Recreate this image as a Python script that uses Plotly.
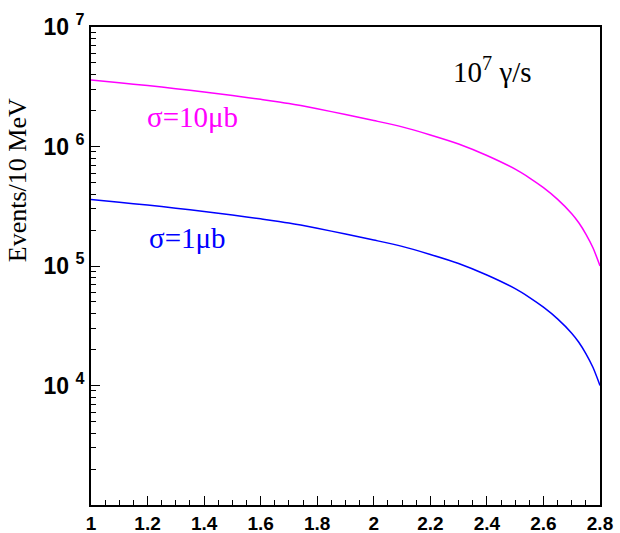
import plotly.graph_objects as go

# Data
x_vals = [1.0, 1.1, 1.2, 1.3, 1.4, 1.5, 1.6, 1.7, 1.8, 1.9, 2.0, 2.1, 2.2, 2.3,
          2.4, 2.5, 2.55, 2.6, 2.65, 2.7, 2.725, 2.75, 2.775, 2.8]
sigma10_vals = [3.60e6, 3.41e6, 3.24e6, 3.05e6, 2.86e6, 2.67e6, 2.48e6, 2.29e6,
                2.07e6, 1.85e6, 1.65e6, 1.46e6, 1.25e6, 1.05e6, 8.41e5, 6.46e5,
                5.47e5, 4.52e5, 3.61e5, 2.74e5, 2.30e5, 1.85e5, 1.42e5, 1.0e5]
sigma1_vals = [3.60e5, 3.41e5, 3.24e5, 3.05e5, 2.86e5, 2.67e5, 2.48e5, 2.29e5,
               2.07e5, 1.85e5, 1.65e5, 1.46e5, 1.25e5, 1.05e5, 8.41e4, 6.46e4,
               5.47e4, 4.52e4, 3.61e4, 2.74e4, 2.30e4, 1.85e4, 1.42e4, 1.0e4]
y_tick_vals = [1e4, 1e5, 1e6, 1e7]
y_tick_text = ["<b>10 <sup>4</sup></b>", "<b>10 <sup>5</sup></b>",
               "<b>10 <sup>6</sup></b>", "<b>10 <sup>7</sup></b>"]
x_tick_vals = [1.0, 1.2, 1.4, 1.6, 1.8, 2.0, 2.2, 2.4, 2.6, 2.8]
x_tick_text = ["<b>1</b>", "<b>1.2</b>", "<b>1.4</b>", "<b>1.6</b>", "<b>1.8</b>",
               "<b>2</b>", "<b>2.2</b>", "<b>2.4</b>", "<b>2.6</b>", "<b>2.8</b>"]

serif = "Liberation Serif, Times New Roman, serif"
sans = "Liberation Sans, Arial, sans-serif"

fig = go.Figure()
fig.add_trace(go.Scatter(x=x_vals, y=sigma10_vals, mode="lines",
                         line=dict(color="#ff00ff", width=1.5, shape="spline",
                                   smoothing=0.8),
                         showlegend=False, hoverinfo="skip"))
fig.add_trace(go.Scatter(x=x_vals, y=sigma1_vals, mode="lines",
                         line=dict(color="#0000ff", width=1.5, shape="spline",
                                   smoothing=0.8),
                         showlegend=False, hoverinfo="skip"))

minor_y = [m * 10 ** e for e in range(3, 7) for m in range(2, 10)]

fig.update_layout(
    width=620, height=533,
    margin=dict(l=91, r=20, t=27, b=28),
    paper_bgcolor="white", plot_bgcolor="white",
    xaxis=dict(range=[1.0, 2.8], tickmode="array", tickvals=x_tick_vals,
               ticktext=x_tick_text, ticks="inside", ticklen=9, tickwidth=1,
               tickcolor="black", showline=True, linecolor="black", linewidth=2,
               mirror=True, showgrid=False, zeroline=False, automargin=False,
               tickfont=dict(family=sans, size=19, color="black"),
               minor=dict(dtick=0.05, ticks="inside", ticklen=5,
                          tickcolor="black", showgrid=False)),
    yaxis=dict(type="log", range=[3, 7], tickmode="array", tickvals=y_tick_vals,
               ticktext=y_tick_text, ticks="inside", ticklen=9, tickwidth=1,
               tickcolor="black", showline=True, linecolor="black", linewidth=2,
               mirror=True, showgrid=False, zeroline=False, automargin=False,
               tickfont=dict(family=sans, size=23, color="black"),
               minor=dict(tickmode="array", tickvals=minor_y, ticks="inside",
                          ticklen=5, tickcolor="black", showgrid=False)),
)

fig.add_annotation(x=-0.143, y=0.68, xref="paper", yref="paper",
                   xanchor="center", yanchor="middle",
                   text="Events/10 MeV", textangle=-90, showarrow=False,
                   font=dict(family=serif, size=26, color="black"))
fig.add_annotation(x=2.42, y=6.64, xref="x", yref="y", text="10<sup>7</sup> γ/s",
                   showarrow=False, font=dict(family=serif, size=29, color="black"))
fig.add_annotation(x=1.36, y=6.246, xref="x", yref="y", text="σ=10μb",
                   showarrow=False, font=dict(family=serif, size=29, color="#ff00ff"))
fig.add_annotation(x=1.341, y=5.231, xref="x", yref="y", text="σ=1μb",
                   showarrow=False, font=dict(family=serif, size=29, color="#0000ff"))

fig.write_html("out.html", config={"displayModeBar": False},
               post_script="document.body.style.margin='0';"
                           "document.body.style.overflow='hidden';")
